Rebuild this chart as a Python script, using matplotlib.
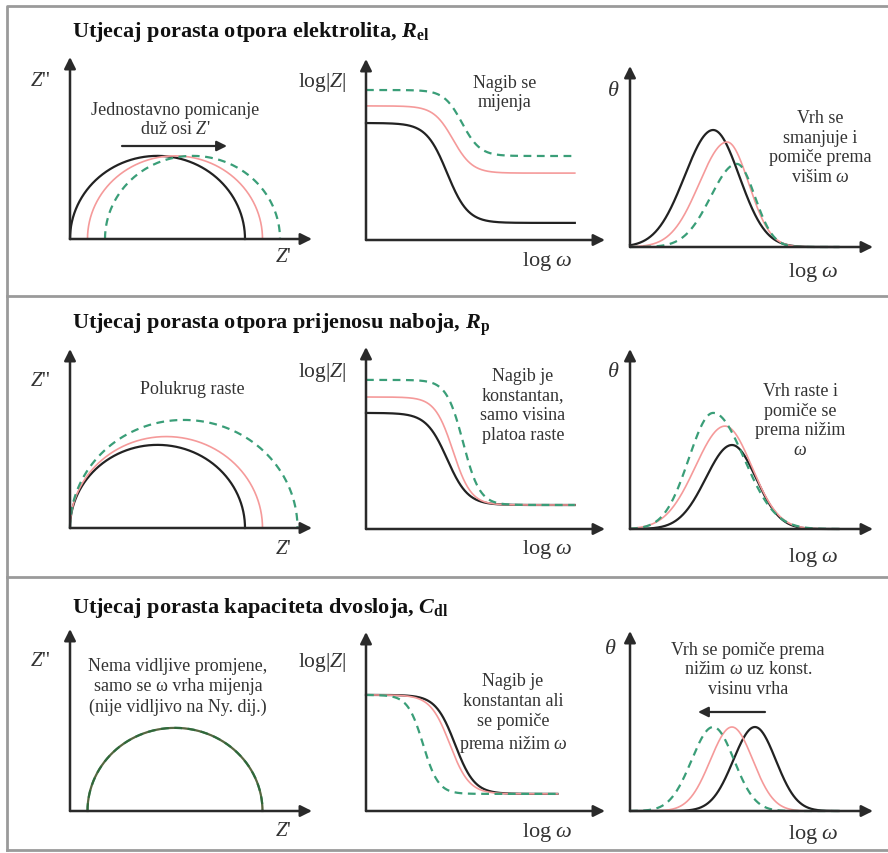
import numpy as np
import matplotlib
matplotlib.use("Agg")
import matplotlib.pyplot as plt

plt.rcParams['font.family'] = ['Liberation Serif', 'DejaVu Serif']
plt.rcParams['mathtext.fontset'] = 'custom'
plt.rcParams['mathtext.rm'] = 'Liberation Serif'
plt.rcParams['mathtext.it'] = 'Liberation Serif:italic'
plt.rcParams['mathtext.bf'] = 'Liberation Serif:bold'
plt.rcParams['mathtext.bfit'] = 'Liberation Serif:bold:italic'

W, H = 888, 854

# ---- data ----
titles = [r"Utjecaj porasta otpora elektrolita, $\mathbfit{R}_\mathbf{el}$",
          r"Utjecaj porasta otpora prijenosu naboja, $\mathbfit{R}_\mathbf{p}$",
          r"Utjecaj porasta kapaciteta dvosloja, $\mathbfit{C}_\mathbf{dl}$"]

# Nyquist: start of semicircle (R_el) and diameter (R_p), per row: black, pink, green
nyq_rel = [[0, 1, 2], [0, 0, 0], [1, 1, 1]]
nyq_rp = [[10, 10, 10], [10, 11, 13], [10, 10, 10]]

# Bode |Z|: low-freq plateau, high-freq plateau, centre of the drop (log w), drop width
bode_lo = [[3.9, 4.47, 5.0], [3.87, 4.4, 4.97], [3.87, 3.87, 3.87]]
bode_hi = [[0.57, 2.23, 2.8], [0.8, 0.8, 0.8], [0.57, 0.57, 0.57]]
bode_c = [[2.33, 2.5, 2.76], [2.33, 2.5, 2.79], [2.56, 2.41, 1.64]]
bode_w = [[0.3, 0.28, 0.26], [0.3, 0.26, 0.24], [0.28, 0.28, 0.22]]
bode_end = [6.0, 6.0, 5.5]

# Bode phase: peak position, peak height, left and right spread
ph_c = [[2.39, 2.79, 3.07], [2.93, 2.73, 2.39], [3.59, 2.93, 2.39]]
ph_a = [[3.9, 3.5, 2.77], [2.8, 3.43, 3.87], [2.8, 2.8, 2.8]]
ph_sl = [[0.82, 0.8, 0.75], [0.75, 0.85, 0.7], [0.62, 0.62, 0.62]]
ph_sr = [[0.75, 0.62, 0.52], [0.69, 0.77, 0.89], [0.6, 0.6, 0.6]]

notes_nyq = ["Jednostavno pomicanje\nduž osi $\\mathit{Z}$'", "Polukrug raste",
             "Nema vidljive promjene,\nsamo se ω vrha mijenja\n(nije vidljivo na Ny. dij.)"]
notes_bode = ["Nagib se\nmijenja", "Nagib je\nkonstantan,\nsamo visina\nplatoa raste",
              "Nagib je\nkonstantan ali\nse pomiče\nprema nižim $\\mathit{ω}$"]
notes_ph = ["Vrh se\nsmanjuje i\npomiče prema\nvišim $\\mathit{ω}$",
            "Vrh raste i\npomiče se\nprema nižim\n$\\mathit{ω}$",
            "Vrh se pomiče prema\nnižim $\\mathit{ω}$ uz konst.\nvisinu vrha"]

colors = ['#222222', '#f59a9a', '#3a9e78']
styles = ['-', '-', (0, (3.5, 2.5))]
lws = [1.6, 1.2, 1.6]
txt_col = '#333333'

fig = plt.figure(figsize=(W / 100, H / 100), dpi=100)
bg = fig.add_axes([0, 0, 1, 1])
bg.set_xlim(0, W)
bg.set_ylim(H, 0)
bg.axis('off')

# frame and row separators
bg.plot([7, 7, W], [851, 7, 7], color='#9a9a9a', lw=2)
bg.plot([7, W], [851, 851], color='#9a9a9a', lw=2)
for yy in [297, 578]:
    bg.plot([7, W], [yy, yy], color='#9a9a9a', lw=2)

title_y = [32, 325, 608]


def panel(x0, y0, x1, y1):
    ax = fig.add_axes([x0 / W, 1 - y0 / H, (x1 - x0) / W, (y0 - y1) / H])
    ax.axis('off')
    for xy in [(1, 0), (0, 1)]:
        ax.annotate('', xy=xy, xytext=(0, 0), xycoords='axes fraction',
                    arrowprops=dict(arrowstyle='-|>', color='#2a2a2a', lw=1.8,
                                    mutation_scale=17, shrinkA=0, shrinkB=0))
    return ax


xu = 34.8   # px per log w unit
yu = 30.0   # px per log|Z| / theta unit
nx = 17.5   # px per Z' unit
ny = 16.6   # px per Z'' unit

for r in range(3):
    bg.text(72, title_y[r], titles[r], fontsize=16, fontweight='bold',
            va='center', ha='left', color='#111111')

    # --- Nyquist ---
    oy = [240, 529, 812][r]
    ty = [58, 350, 630][r]
    ax = panel(70, oy, 312, ty)
    ax.set_xlim(0, (312 - 70) / nx)
    ax.set_ylim(0, (oy - ty) / ny)
    t = np.linspace(0, np.pi, 300)
    for i in range(3):
        rad = nyq_rp[r][i] / 2
        cx = nyq_rel[r][i] + rad
        ax.plot(cx - rad * np.cos(t), rad * (nx * 0.95 / ny) * np.sin(t),
                color=colors[i], ls=styles[i], lw=lws[i],
                alpha=0.0 if (r == 2 and i == 0) else 1.0, clip_on=False)
    if r == 2:
        # all three coincide: the black line sits over the others
        rad = nyq_rp[r][0] / 2
        cx = nyq_rel[r][0] + rad
        ax.plot(cx - rad * np.cos(t), rad * (nx * 0.95 / ny) * np.sin(t),
                color='#2f5a2a', lw=1.6, alpha=0.8, clip_on=False)
    bg.text(40, [82, 382, 662][r], "$\\mathit{Z}$''", fontsize=15, ha='center', va='center', color=txt_col)
    bg.text(283, [258, 550, 832][r], "$\\mathit{Z}$'", fontsize=15, ha='center', va='center', color=txt_col)

    # --- Bode |Z| ---
    oy = [241, 530, 812][r]
    ty = [60, 348, 633][r]
    ax = panel(366, oy, 605, ty)
    ax.set_xlim(0, (605 - 366) / xu)
    ax.set_ylim(0, (oy - ty) / yu)
    lw_ = np.linspace(0, bode_end[r], 400)
    for i in range(3):
        y = bode_hi[r][i] + (bode_lo[r][i] - bode_hi[r][i]) / (1 + np.exp((lw_ - bode_c[r][i]) / bode_w[r][i]))
        ax.plot(lw_, y, color=colors[i], ls=styles[i], lw=lws[i], clip_on=False)
    bg.text(322, [83, 373, 663][r], r"log$|\mathit{Z}|$", fontsize=15.5, ha='center', va='center', color=txt_col)
    bg.text(547, [262, 550, 833][r], "log $\\mathit{ω}$", fontsize=16, ha='center', va='center', color=txt_col)

    # --- Bode phase ---
    oy = [248, 530, 812][r]
    ty = [67, 350, 632][r]
    ax = panel(630, oy, 873, ty)
    ax.set_xlim(0, (873 - 630) / xu)
    ax.set_ylim(0, (oy - ty) / yu)
    lw_ = np.linspace(0, 6.0, 500)
    for i in range(3):
        s = np.where(lw_ < ph_c[r][i], ph_sl[r][i], ph_sr[r][i])
        y = ph_a[r][i] * np.exp(-0.5 * ((lw_ - ph_c[r][i]) / s) ** 2)
        ax.plot(lw_, y, color=colors[i], ls=styles[i], lw=lws[i], clip_on=False)
    bg.text([613, 613, 610][r], [92, 373, 650][r], "$\\mathit{θ}$", fontsize=16, ha='center', va='center', color=txt_col)
    bg.text(813, [273, 558, 835][r], "log $\\mathit{ω}$", fontsize=16, ha='center', va='center', color=txt_col)

# notes
kw = dict(fontsize=13, ha='center', va='center', color=txt_col, linespacing=1.22)
bg.text(175, 120, notes_nyq[0], **kw)
bg.text(192, 390, notes_nyq[1], **kw)
bg.text(178, 687, notes_nyq[2], **kw)
bg.text(505, 93, notes_bode[0], **kw)
bg.text(523, 406, notes_bode[1], **kw)
bg.text(513, 714, notes_bode[2], **kw)
bg.text(820, 148, notes_ph[0], **kw)
bg.text(800, 421, notes_ph[1], **kw)
bg.text(748, 670, notes_ph[2], **kw)

# shift arrows
bg.annotate('', xy=(227, 147), xytext=(122, 147),
            arrowprops=dict(arrowstyle='-|>', color='#2a2a2a', lw=1.6, mutation_scale=15, shrinkA=0, shrinkB=0))
bg.annotate('', xy=(698, 713), xytext=(765, 713),
            arrowprops=dict(arrowstyle='-|>', color='#2a2a2a', lw=1.6, mutation_scale=15, shrinkA=0, shrinkB=0))

fig.savefig('out.png', dpi=100)
